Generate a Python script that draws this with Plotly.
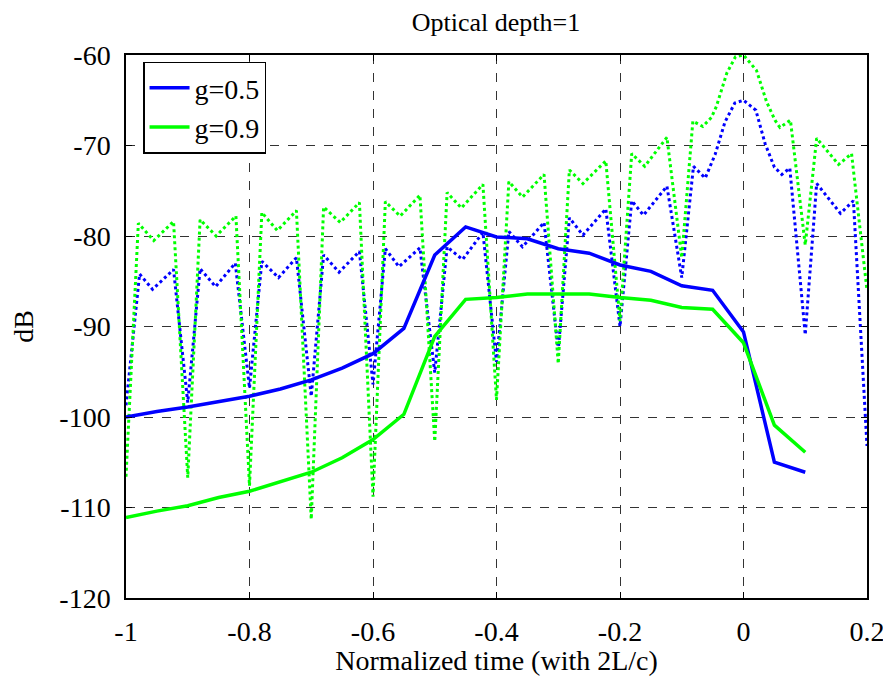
import plotly.graph_objects as go

# solid curves, sampled every 0.05
t_solid = [-1.0, -0.95, -0.9, -0.85, -0.8, -0.75, -0.7, -0.65, -0.6, -0.55, -0.5, -0.45,
           -0.4, -0.35, -0.3, -0.25, -0.2, -0.15, -0.1, -0.05, 0.0, 0.05, 0.1]
db_g05 = [-100.0, -99.4, -98.9, -98.3, -97.7, -96.9, -95.9, -94.6, -93.0, -90.2, -82.1, -79.0,
          -80.1, -80.3, -81.4, -81.9, -83.2, -83.9, -85.5, -86.0, -90.6, -105.0, -106.1]
db_g09 = [-111.1, -110.4, -109.8, -108.9, -108.2, -107.2, -106.1, -104.5, -102.5, -99.7, -91.1, -87.0,
          -86.8, -86.4, -86.4, -86.4, -86.8, -87.1, -87.9, -88.1, -91.8, -100.9, -103.9]

# dotted curves (vertices)
t_dot05 = [-1.0, -0.978, -0.957, -0.923, -0.9, -0.88, -0.855, -0.823, -0.8, -0.78, -0.753, -0.724,
           -0.7, -0.68, -0.655, -0.622, -0.6, -0.58, -0.558, -0.524, -0.5, -0.48, -0.455, -0.422,
           -0.4, -0.38, -0.358, -0.323, -0.3, -0.282, -0.26, -0.223, -0.2, -0.181, -0.162, -0.124,
           -0.1, -0.081, -0.062, -0.046, -0.03, -0.014, 0.0, 0.02, 0.035, 0.05, 0.062, 0.075,
           0.1, 0.1185, 0.157, 0.178, 0.2]
db_dot05 = [-98.7, -84.2, -85.9, -83.7, -98.4, -83.6, -85.6, -83.0, -96.8, -82.8, -84.6, -82.4,
            -97.7, -82.1, -84.0, -81.7, -96.4, -81.4, -83.4, -81.3, -95.1, -81.2, -82.6, -79.6,
            -93.9, -79.5, -81.2, -78.5, -92.6, -78.0, -79.9, -77.0, -90.0, -76.1, -77.7, -74.5,
            -84.6, -72.3, -73.6, -71.0, -67.4, -65.3, -65.0, -66.1, -69.8, -72.4, -73.2, -72.5,
            -90.9, -74.2, -77.5, -76.1, -103.2]

t_dot09 = [-1.0, -0.98, -0.955, -0.923, -0.9, -0.88, -0.854, -0.822, -0.8, -0.78, -0.755, -0.724,
           -0.7, -0.68, -0.653, -0.622, -0.6, -0.58, -0.556, -0.524, -0.5, -0.48, -0.457, -0.422,
           -0.4, -0.38, -0.358, -0.323, -0.3, -0.282, -0.26, -0.223, -0.2, -0.181, -0.16, -0.124,
           -0.1, -0.082, -0.066, -0.052, -0.044, -0.027, -0.013, 0.0, 0.021, 0.0375, 0.051, 0.059,
           0.076, 0.1, 0.1185, 0.154, 0.175, 0.2]
db_dot09 = [-106.6, -78.6, -80.5, -78.4, -106.7, -78.2, -80.0, -77.8, -107.6, -77.4, -79.4, -77.2,
            -111.3, -76.8, -78.5, -76.3, -108.8, -76.2, -77.8, -75.5, -102.7, -75.2, -76.9, -74.3,
            -98.1, -74.0, -75.7, -73.2, -94.1, -72.7, -74.2, -71.7, -89.4, -70.9, -72.3, -69.1,
            -82.4, -67.3, -67.9, -66.9, -65.7, -62.0, -60.2, -60.0, -61.7, -65.2, -67.2, -68.0,
            -67.2, -81.0, -69.2, -72.1, -70.9, -86.0]

x_ticks = [-1, -0.8, -0.6, -0.4, -0.2, 0, 0.2]
x_labels = ['-1', '-0.8', '-0.6', '-0.4', '-0.2', '0', '0.2']
y_ticks = [-120, -110, -100, -90, -80, -70, -60]
y_labels = ['-120', '-110', '-100', '-90', '-80', '-70', '-60']

BLUE = '#0000ff'
GREEN = '#00ff00'
FONT = 'Liberation Serif'

fig = go.Figure()
fig.add_trace(go.Scatter(x=t_dot05, y=db_dot05, mode='lines', showlegend=False,
                         line=dict(color=BLUE, width=3, dash='3px,3px')))
fig.add_trace(go.Scatter(x=t_dot09, y=db_dot09, mode='lines', showlegend=False,
                         line=dict(color=GREEN, width=3, dash='3px,3px')))
fig.add_trace(go.Scatter(x=t_solid, y=db_g05, mode='lines', name='g=0.5',
                         line=dict(color=BLUE, width=3.5)))
fig.add_trace(go.Scatter(x=t_solid, y=db_g09, mode='lines', name='g=0.9',
                         line=dict(color=GREEN, width=3.5)))

axis_common = dict(showline=True, linecolor='black', linewidth=1.5, mirror='ticks',
                   ticks='inside', ticklen=6, tickcolor='black', automargin=False,
                   showgrid=True, gridcolor='#333333', griddash='dash', gridwidth=1,
                   zeroline=False, tickfont=dict(family=FONT, size=28, color='black'))

# the page body adds an 8px offset, so the figure is 8px smaller than the window
W, H = 883, 668
fig.update_layout(
    width=W, height=H,
    margin=dict(l=118, r=24, t=47, b=78),
    paper_bgcolor='white', plot_bgcolor='white',
    font=dict(family=FONT, color='black'),
    title=dict(text='Optical depth=1', x=(496 - 8) / W, xanchor='center', y=1 - 14 / H,
               yref='container', yanchor='middle', font=dict(family=FONT, size=26)),
    xaxis=dict(range=[-1, 0.2], tickvals=x_ticks, ticktext=x_labels, ticklabelstandoff=8,
               title=dict(text='Normalized time (with 2L/c)', standoff=0,
                          font=dict(family=FONT, size=28)), **axis_common),
    yaxis=dict(range=[-120, -60], tickvals=y_ticks, ticktext=y_labels, ticklabelstandoff=8,
               title=dict(text='dB', standoff=18, font=dict(family=FONT, size=28)),
               **axis_common),
    legend=dict(x=0.023, y=0.988, xanchor='left', yanchor='top',
                bgcolor='white', bordercolor='black', borderwidth=1.5,
                font=dict(family=FONT, size=28), tracegroupgap=0, itemwidth=40),
)

fig.write_html("out.html")
